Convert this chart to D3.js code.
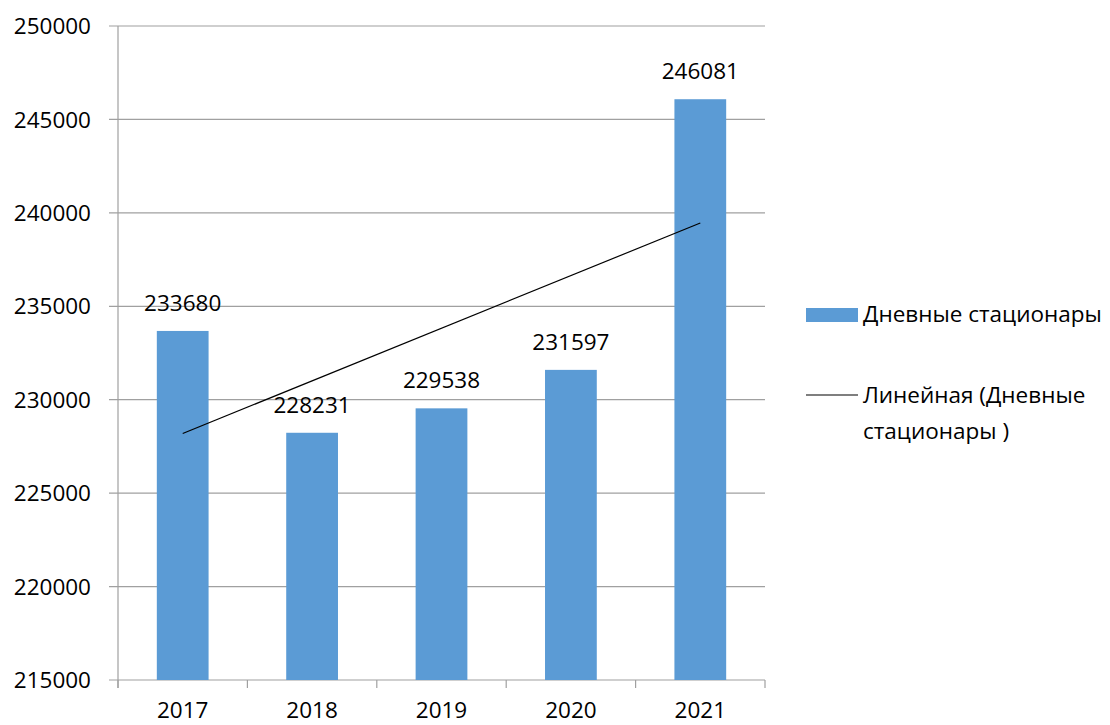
<!DOCTYPE html>
<html>
<head>
<meta charset="utf-8">
<script src="https://cdn.jsdelivr.net/npm/d3@7"></script>
<style>
  html, body { margin: 0; padding: 0; background: #fff; }
  svg text { font-family: "Open Sans", "Liberation Sans", sans-serif; fill: #000; }
</style>
</head>
<body>
<svg id="chart" width="1110" height="725"></svg>
<script>
// Day hospitals, by year
const years = ["2017", "2018", "2019", "2020", "2021"];
const values = [233680, 228231, 229538, 231597, 246081];
const yTicks = [215000, 220000, 225000, 230000, 235000, 240000, 245000, 250000];
const seriesName = "Дневные стационары";
const trendName = ["Линейная (Дневные", "стационары )"];

const svg = d3.select("#chart");
const plotLeft = 118, plotRight = 765, plotTop = 26, plotBottom = 680;
const fontSize = 22.5;

const x = d3.scaleBand().domain(years).range([plotLeft, plotRight]).paddingInner(0.6).paddingOuter(0.3);
const xCat = d3.scaleBand().domain(years).range([plotLeft, plotRight]);
const y = d3.scaleLinear().domain([215000, 250000]).range([plotBottom, plotTop]);

// horizontal gridlines with short ticks left of the axis
svg.append("g").selectAll("line").data(yTicks).join("line")
  .attr("x1", plotLeft - 9).attr("x2", plotRight)
  .attr("y1", d => y(d)).attr("y2", d => y(d))
  .attr("stroke", "#a0a0a0").attr("stroke-width", 1.2);

// y labels
svg.append("g").selectAll("text").data(yTicks).join("text")
  .attr("x", 91).attr("y", d => y(d)).attr("dy", "0.36em")
  .attr("text-anchor", "end").attr("font-size", fontSize)
  .text(d => d);

// vertical axis
svg.append("line").attr("x1", plotLeft).attr("x2", plotLeft).attr("y1", plotTop).attr("y2", plotBottom + 8)
  .attr("stroke", "#a0a0a0").attr("stroke-width", 1.2);

// x category boundary ticks
const bounds = years.map(d => xCat(d)).concat([plotRight]);
svg.append("g").selectAll("line").data(bounds).join("line")
  .attr("x1", d => d).attr("x2", d => d)
  .attr("y1", plotBottom).attr("y2", plotBottom + 8)
  .attr("stroke", "#a0a0a0").attr("stroke-width", 1.2);

// bars
svg.append("g").selectAll("rect").data(values).join("rect")
  .attr("x", (d, i) => x(years[i]))
  .attr("width", x.bandwidth())
  .attr("y", d => y(d))
  .attr("height", d => y(215000) - y(d))
  .attr("fill", "#5b9bd5");

// value labels
svg.append("g").selectAll("text").data(values).join("text")
  .attr("x", (d, i) => x(years[i]) + x.bandwidth() / 2)
  .attr("y", d => y(d) - 20)
  .attr("text-anchor", "middle").attr("font-size", fontSize)
  .text(d => d);

// x labels
svg.append("g").selectAll("text").data(years).join("text")
  .attr("x", d => xCat(d) + xCat.bandwidth() / 2)
  .attr("y", 718)
  .attr("text-anchor", "middle").attr("font-size", fontSize)
  .text(d => d);

// linear trend (least squares over category index)
const n = values.length;
const xs = d3.range(1, n + 1);
const mx = d3.mean(xs), my = d3.mean(values);
const slope = d3.sum(xs, (xi, i) => (xi - mx) * (values[i] - my)) / d3.sum(xs, xi => (xi - mx) ** 2);
const icpt = my - slope * mx;
const trend = years.map((yr, i) => [xCat(yr) + xCat.bandwidth() / 2, y(icpt + slope * xs[i])]);
svg.append("path")
  .attr("d", d3.line()([trend[0], trend[n - 1]]))
  .attr("stroke", "#000").attr("stroke-width", 1.2).attr("fill", "none");

// legend
const lg = svg.append("g");
lg.append("rect").attr("x", 806).attr("y", 308).attr("width", 52).attr("height", 14).attr("fill", "#5b9bd5");
lg.append("text").attr("x", 863).attr("y", 322).attr("font-size", fontSize).text(seriesName);
lg.append("line").attr("x1", 806).attr("x2", 858).attr("y1", 395).attr("y2", 395)
  .attr("stroke", "#000").attr("stroke-width", 1.2);
lg.selectAll("text.t").data(trendName).join("text").attr("class", "t")
  .attr("x", 863).attr("y", (d, i) => 403 + i * 36).attr("font-size", fontSize).text(d => d);
</script>
</body>
</html>
